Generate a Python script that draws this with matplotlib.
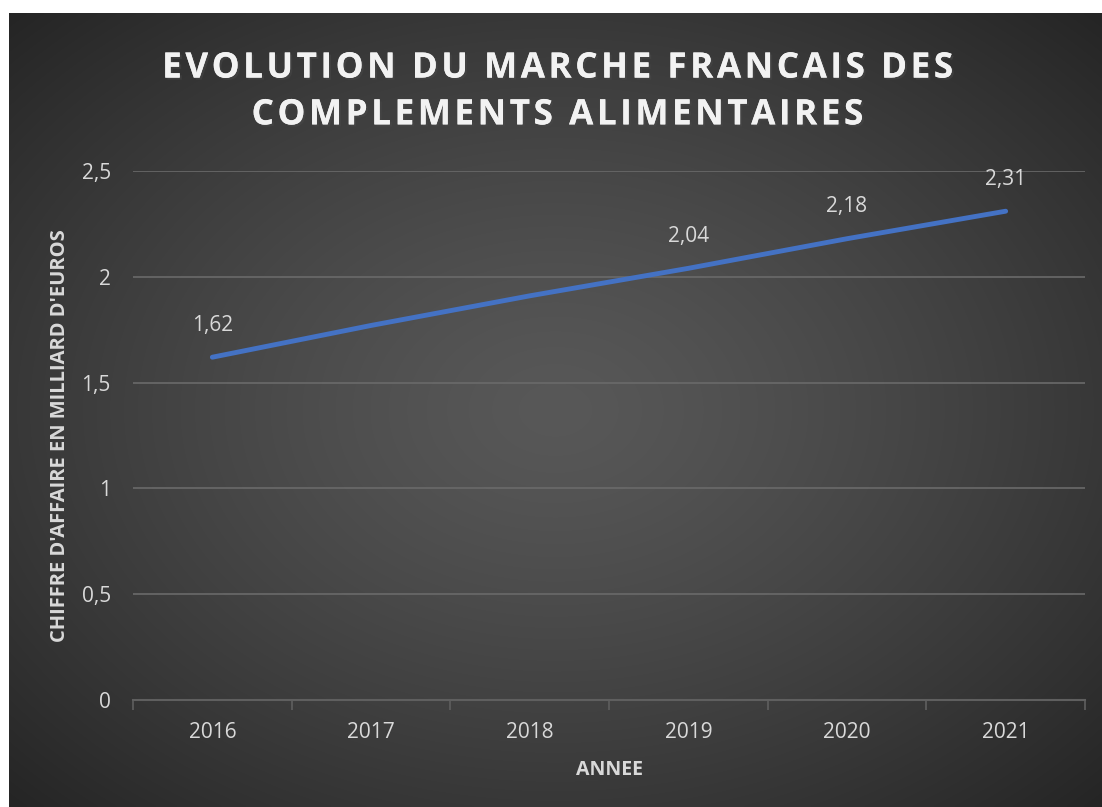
import matplotlib.pyplot as plt
import matplotlib.patheffects as pe
import numpy as np

years = ["2016", "2017", "2018", "2019", "2020", "2021"]
ca = [1.62, 1.77, 1.91, 2.04, 2.18, 2.31]
# only some points carry a label in the original
labelled = [True, False, False, True, True, True]
yticks = [0, 0.5, 1, 1.5, 2, 2.5]
ytick_labels = ["0", "0,5", "1", "1,5", "2", "2,5"]
title_lines = ["EVOLUTION DU MARCHE FRANCAIS DES", "COMPLEMENTS ALIMENTAIRES"]

plt.rcParams['font.family'] = ['Open Sans', 'DejaVu Sans']

fig = plt.figure(figsize=(11.02, 8.07), dpi=100)
fig.patch.set_facecolor("white")

# dark radial gradient behind everything
bg = fig.add_axes([9 / 1102, 0, 1 - 9 / 1102, 1 - 13 / 807])
bg.set_axis_off()
gx, gy = np.meshgrid(np.linspace(-1, 1, 400), np.linspace(-1, 1, 300))
r = np.sqrt(gx ** 2 + gy ** 2) / np.sqrt(2)
shade = 0.345 - 0.2 * r ** 1.3
bg.imshow(np.dstack([shade] * 3), aspect="auto", extent=[0, 1, 0, 1], interpolation="bilinear")

ax = fig.add_axes([133 / 1102, 107 / 807, 952 / 1102, 529 / 807])
ax.set_facecolor("none")
x = np.arange(len(years))
ax.plot(x, ca, color="#4472C4", lw=3.5, solid_capstyle="round")

for xi, v, show in zip(x, ca, labelled):
    if show:
        ax.annotate(f"{v:.2f}".replace(".", ","), (xi, v), xytext=(0, 23),
                    textcoords="offset points", ha="center", va="center",
                    color="#d9d9d9", fontsize=15)

ax.set_xlim(-0.5, len(years) - 0.5)
ax.set_ylim(0, 2.5)
ax.set_yticks(yticks)
ax.set_yticklabels(ytick_labels)
ax.set_xticks(x)
ax.set_xticklabels(years)
ax.set_xticks(np.arange(-0.5, len(years)), minor=True)
ax.tick_params(axis="x", which="major", length=0, pad=16, labelsize=15, labelcolor="#d9d9d9")
ax.tick_params(axis="x", which="minor", length=7, width=1.2, color="#5f5f5f")
ax.tick_params(axis="y", length=0, pad=16, labelsize=15, labelcolor="#d9d9d9")
ax.grid(axis="y", color="#6a6a6a", lw=1.2)
ax.set_axisbelow(True)
for s in ["top", "right", "left"]:
    ax.spines[s].set_visible(False)
ax.spines["bottom"].set_color("#5f5f5f")
ax.spines["bottom"].set_linewidth(1.5)

ax.set_xlabel("ANNEE", color="#d9d9d9", fontsize=14, fontweight="bold", labelpad=12)
ax.set_ylabel("CHIFFRE D'AFFAIRE EN MILLIARD D'EUROS", color="#d9d9d9", fontsize=14.5,
              fontweight="bold", labelpad=8)

# letter-spaced title, using hair spaces between characters
spaced = "\n".join("\u200a".join(line) for line in title_lines)
title = fig.text(557 / 1102, 1 - 92 / 807, spaced,
                 ha="center", va="center", color="#f2f2f2", fontsize=25.3, fontweight="bold",
                 linespacing=1.4)
title.set_path_effects([pe.withSimplePatchShadow(offset=(1.5, -1.5), alpha=0.5), pe.Normal()])

fig.savefig("out.png", dpi=100)
